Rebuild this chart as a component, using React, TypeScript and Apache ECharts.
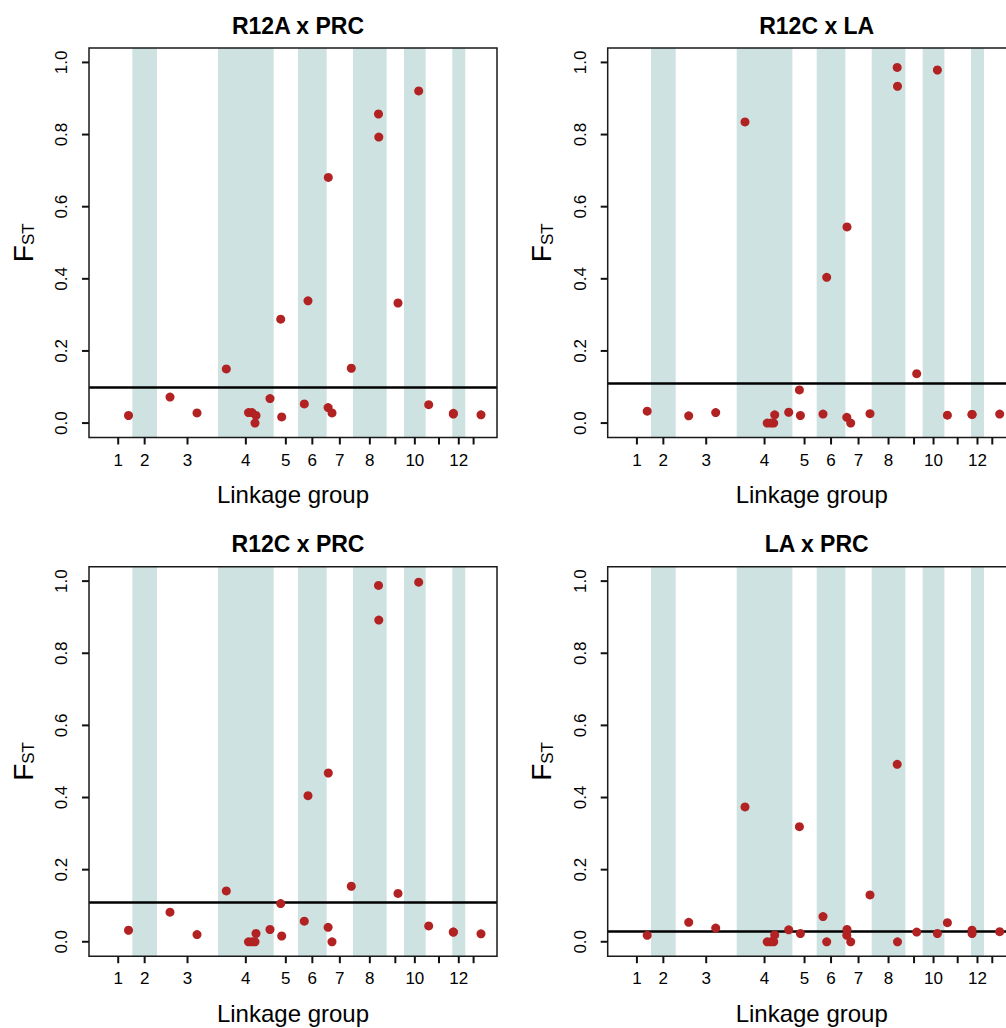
import React, { useEffect, useRef } from "react";
import * as echarts from "echarts";

// Linkage-group boundaries along the concatenated map (map units)
const groupBounds = [0, 28.2, 52.9, 113.9, 169.6, 193.9, 222.6, 248.9, 282.6, 299.9, 321.6, 348.2, 361.2, 377.8];
const groupLabels = ["1", "2", "3", "4", "5", "6", "7", "8", "", "10", "", "12", ""];
const shadedGroups = [1, 3, 5, 7, 9, 11];
const yTicks = [0, 0.2, 0.4, 0.6, 0.8, 1.0];

// Marker positions along the map
const lociPos = [24.4, 65.9, 92.9, 122.2, 144.4, 147.9, 150.9, 151.9, 165.9, 176.6, 177.6, 200.2, 203.9, 224.2, 224.0, 227.9, 247.2, 274.4, 274.7, 293.9, 314.6, 324.6, 349.2, 349.3, 376.9];

// FST per marker, per cross
const fstR12A_PRC = [0.021, 0.072, 0.028, 0.150, 0.029, 0.029, 0.000, 0.021, 0.068, 0.288, 0.017, 0.053, 0.339, 0.681, 0.043, 0.028, 0.152, 0.857, 0.793, 0.333, 0.921, 0.051, 0.025, 0.027, 0.023];
const fstR12C_LA = [0.033, 0.020, 0.029, 0.835, 0.000, 0.000, 0.000, 0.023, 0.030, 0.092, 0.021, 0.025, 0.404, 0.544, 0.016, 0.000, 0.026, 0.986, 0.934, 0.137, 0.979, 0.022, 0.024, 0.024, 0.025];
const fstR12C_PRC = [0.032, 0.082, 0.020, 0.141, 0.000, 0.000, 0.000, 0.023, 0.034, 0.106, 0.016, 0.057, 0.405, 0.468, 0.040, 0.000, 0.154, 0.988, 0.892, 0.134, 0.997, 0.044, 0.027, 0.027, 0.022];
const fstLA_PRC = [0.018, 0.054, 0.038, 0.374, 0.000, 0.000, 0.000, 0.019, 0.033, 0.319, 0.023, 0.070, 0.000, 0.034, 0.018, 0.000, 0.130, 0.492, 0.000, 0.027, 0.023, 0.053, 0.032, 0.023, 0.028];

const panelTitles = ["R12A x PRC", "R12C x LA", "R12C x PRC", "LA x PRC"];
const panelValues = [fstR12A_PRC, fstR12C_LA, fstR12C_PRC, fstLA_PRC];
const thresholds = [0.101, 0.110, 0.109, 0.030];

const FONT = "'Liberation Sans', Arial, Helvetica, sans-serif";
const POINT_COLOR = "#B22222";
const BAND_COLOR = "#CEE2E1";

export default function App() {
  const ref = useRef<HTMLDivElement>(null);
  useEffect(() => {
    if (!ref.current) return;
    document.body.style.overflow = "hidden";
    const chart = echarts.init(ref.current, undefined, { renderer: "svg" });

    const mids = groupBounds.slice(0, -1).map((b, i) => (b + groupBounds[i + 1]) / 2);
    const span = groupBounds[groupBounds.length - 1] - groupBounds[0];
    const xMin = groupBounds[0] - 0.04 * span;
    const xMax = groupBounds[groupBounds.length - 1] + 0.04 * span;
    const yMin = -0.04;
    const yMax = 1.04;
    const TICK = 7;
    const TW = 2;

    const lefts = [89, 607.7];
    const tops = [48, 566.7];
    const W = 408;
    const H = 389.5;

    const grids: any[] = [];
    const xAxes: any[] = [];
    const yAxes: any[] = [];
    const series: any[] = [];
    const titles: any[] = [];

    panelTitles.forEach((t, i) => {
      const col = i % 2;
      const row = Math.floor(i / 2);
      const left = lefts[col];
      const top = tops[row];
      grids.push({
        left,
        top,
        width: W,
        height: H,
        show: false,
        containLabel: false,
      });
      titles.push({
        text: t,
        left: left + W / 2,
        top: top - 39,
        textAlign: "center",
        textStyle: { fontFamily: FONT, fontSize: 23, fontWeight: "bold", color: "#000" },
      });
      xAxes.push({
        type: "value",
        gridIndex: i,
        position: "bottom",
        min: xMin,
        max: xMax,
        name: "Linkage group",
        nameLocation: "middle",
        nameGap: 45,
        nameTextStyle: { fontFamily: FONT, fontSize: 24, color: "#000" },
        axisLine: { show: false, onZero: false },
        splitLine: { show: false },
        axisTick: { show: false },
        axisLabel: {
          show: true,
          customValues: mids,
          margin: 14,
          fontFamily: FONT,
          fontSize: 17,
          color: "#000",
          hideOverlap: false,
          formatter: (v: number) => {
            let best = 0;
            mids.forEach((m, k) => {
              if (Math.abs(m - v) < Math.abs(mids[best] - v)) best = k;
            });
            return groupLabels[best];
          },
        },
      });
      yAxes.push({
        type: "value",
        gridIndex: i,
        position: "left",
        min: yMin,
        max: yMax,
        name: "{f|F}{s|ST}",
        nameLocation: "middle",
        nameRotate: 90,
        nameGap: 52,
        nameTextStyle: {
          fontFamily: FONT,
          color: "#000",
          rich: {
            f: { fontFamily: FONT, fontSize: 28, color: "#000" },
            s: { fontFamily: FONT, fontSize: 17, color: "#000", verticalAlign: "bottom" },
          },
        },
        axisLine: { show: false, onZero: false },
        splitLine: { show: false },
        axisTick: { show: false },
        axisLabel: {
          show: true,
          customValues: yTicks,
          rotate: 90,
          margin: 19,
          fontFamily: FONT,
          fontSize: 17,
          color: "#000",
          formatter: (v: number) => v.toFixed(1),
        },
      });
      series.push({
        type: "scatter",
        xAxisIndex: i,
        yAxisIndex: i,
        symbol: "circle",
        symbolSize: 9,
        itemStyle: { color: POINT_COLOR, opacity: 1 },
        data: lociPos.map((x, k) => [x, panelValues[i][k]]),
        silent: true,
        z: 5,
        markArea: {
          silent: true,
          itemStyle: { color: BAND_COLOR, opacity: 1 },
          data: shadedGroups.map((g) => [{ xAxis: groupBounds[g] }, { xAxis: groupBounds[g + 1] }]),
        },
        markLine: {
          silent: true,
          symbol: ["none", "none"],
          label: { show: false },
          lineStyle: { color: "#000", width: 2.5, type: "solid" },
          data: [{ yAxis: thresholds[i] }],
        },
      });
    });

    chart.setOption({
      animation: false,
      backgroundColor: "#fff",
      title: titles,
      grid: grids,
      xAxis: xAxes,
      yAxis: yAxes,
      series,
    });

    // Box frame and tick marks placed through the chart's own axis scales
    const els: any[] = [];
    panelTitles.forEach((_t, i) => {
      const finder = { gridIndex: i } as any;
      const tl = chart.convertToPixel(finder, [xMin, yMax]) as number[];
      const br = chart.convertToPixel(finder, [xMax, yMin]) as number[];
      els.push({
        type: "rect",
        z: 100,
        silent: true,
        shape: { x: tl[0], y: tl[1], width: br[0] - tl[0], height: br[1] - tl[1] },
        style: { fill: null, stroke: "#1a1a1a", lineWidth: 1.5 },
      });
      mids.forEach((m) => {
        const p = chart.convertToPixel(finder, [m, yMin]) as number[];
        els.push({
          type: "rect",
          z: 100,
          silent: true,
          shape: { x: p[0] - TW / 2, y: p[1], width: TW, height: TICK },
          style: { fill: "#111" },
        });
      });
      yTicks.forEach((v) => {
        const p = chart.convertToPixel(finder, [xMin, v]) as number[];
        els.push({
          type: "rect",
          z: 100,
          silent: true,
          shape: { x: p[0] - TICK, y: p[1] - TW / 2, width: TICK, height: TW },
          style: { fill: "#111" },
        });
      });
    });
    chart.setOption({ graphic: { elements: els } });

    return () => chart.dispose();
  }, []);

  return (
    <div
      ref={ref}
      style={{ position: "fixed", left: 0, top: 0, width: 1030, height: 1028, background: "#fff" }}
    />
  );
}
